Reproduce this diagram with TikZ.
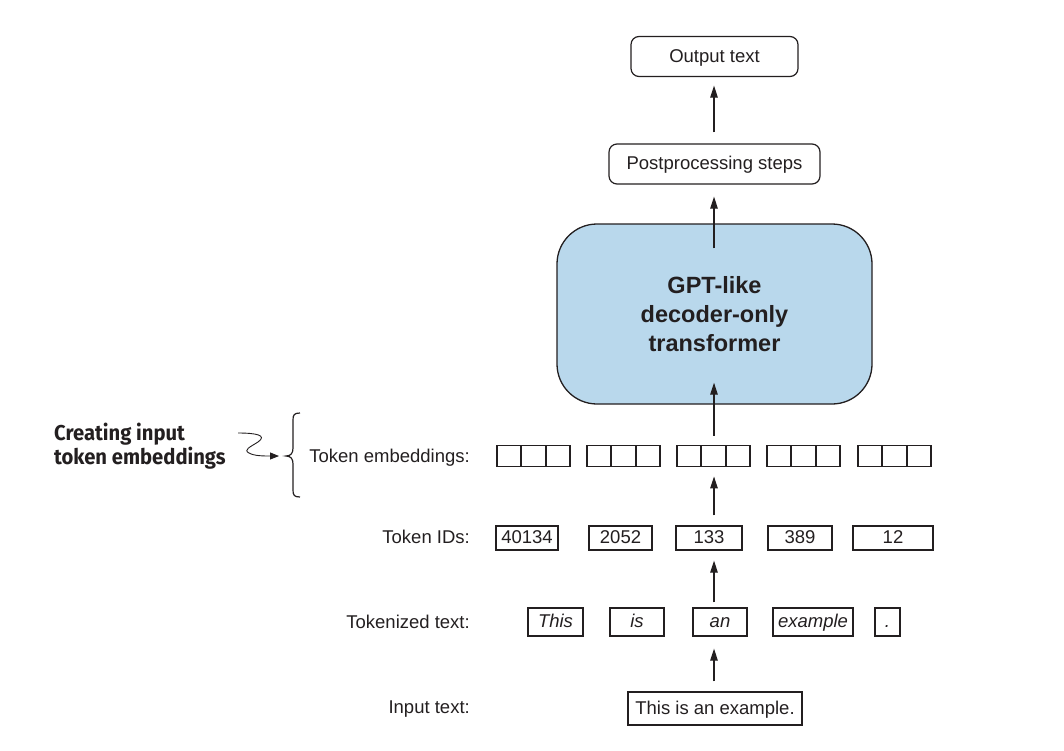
\documentclass[tikz,border=0pt]{standalone}
\usepackage{fontspec}
\setmainfont{Liberation Sans}
\newfontfamily\notefont[FakeStretch=0.94]{Fira Sans}
\usetikzlibrary{arrows.meta}

\definecolor{ink}{HTML}{231F20}
\definecolor{gptblue}{HTML}{B9D8EC}

\begin{document}
\begin{tikzpicture}[x=1pt,y=-1pt,
  txt/.style={font=\fontsize{18.5}{22}\selectfont, text=ink},
  lbl/.style={txt, anchor=base east, inner sep=0pt},
  box/.style={txt, draw=ink, line width=1.2pt, inner sep=0pt, text height=14pt, text depth=3pt},
  rbox/.style={box, rounded corners=8pt},
  cell/.style={draw=ink, line width=1.3pt, minimum width=24pt, minimum height=20.5pt, inner sep=0pt},
  arr/.style={draw=ink, line width=1.2pt, -{Triangle[length=12pt,width=7.5pt]}},
]
\useasboundingbox (0,0) rectangle (1064,750);

% main column of arrows
\coordinate (spine) at (714,0);

% top boxes
\node[rbox, minimum width=167pt, minimum height=40pt] (out) at (714.5,56.5) {Output text};
\node[rbox, minimum width=211pt, minimum height=40pt] (post) at (714.5,164) {Postprocessing steps};

% transformer block
\node[draw=ink, line width=1.3pt, fill=gptblue, rounded corners=40pt,
      minimum width=315pt, minimum height=180pt, align=center, text=ink,
      font=\bfseries\fontsize{23.5}{29}\selectfont] (gpt) at (714.5,314)
      {GPT-like\\decoder-only\\transformer};

% row labels
\node[lbl] (lemb) at (470,462) {Token embeddings:};
\node[lbl] (lids) at (470,543) {Token IDs:};
\node[lbl] (ltok) at (470,628) {Tokenized text:};
\node[lbl] (linp) at (470,713) {Input text:};

% token embedding vectors
\foreach \g/\x in {1/497,2/587,3/677,4/767,5/858}
  \foreach \k in {0,1,2}
    \node[cell] (e\g\k) at (\x+12+24.5*\k,456) {};

% token IDs
\node[box, minimum width=62pt, minimum height=24pt] (id1) at (527,538) {40134};
\node[box, minimum width=63pt, minimum height=24pt] (id2) at (620.5,538) {2052};
\node[box, minimum width=66pt, minimum height=24pt] (id3) at (709,538) {133};
\node[box, minimum width=64pt, minimum height=24pt] (id4) at (800,538) {389};
\node[box, minimum width=80pt, minimum height=24pt] (id5) at (893,538) {12};

% tokenized text
\node[box, minimum width=55pt, minimum height=28pt, font=\itshape\fontsize{18.5}{22}\selectfont] (t1) at (555.5,622) {This};
\node[box, minimum width=54pt, minimum height=28pt, font=\itshape\fontsize{18.5}{22}\selectfont] (t2) at (637,622) {is};
\node[box, minimum width=54pt, minimum height=28pt, font=\itshape\fontsize{18.5}{22}\selectfont] (t3) at (720,622) {an};
\node[box, minimum width=80pt, minimum height=28pt, font=\itshape\fontsize{18.5}{22}\selectfont] (t4) at (813,622) {example};
\node[box, minimum width=25pt, minimum height=28pt, font=\itshape\fontsize{18.5}{22}\selectfont] (t5) at (887.5,622) {.};

% input text
\node[box, minimum width=174pt, minimum height=33pt] (inp) at (715,708.5) {This is an example.};

% flow arrows
\draw[arr, shorten <=10pt, shorten >=12pt] (inp.north -| spine) -- (t3.south -| spine);
\draw[arr, shorten <=5pt, shorten >=10pt] (t3.north -| spine) -- (id3.south -| spine);
\draw[arr, shorten <=10pt, shorten >=9.5pt] (id3.north -| spine) -- (e31.south -| spine);
\draw[arr, shorten <=9.5pt, shorten >=-22pt] (e31.north -| spine) -- (gpt.south -| spine);
\draw[arr, shorten <=-25pt, shorten >=12pt] (gpt.north -| spine) -- (post.south -| spine);
\draw[arr, shorten <=11pt, shorten >=8.5pt] (post.north -| spine) -- (out.south -| spine);

% annotation
\node[anchor=west, align=left, inner sep=0pt, text=ink,
      font=\notefont\bfseries\fontsize{21.5}{24}\selectfont] (note) at (54,446)
      {Creating input\\token embeddings};
\coordinate (bt) at (286,456);
\coordinate (sq) at (238,433);
\draw[ink, line width=1.2pt] (300,413) .. controls (294,413) and (293,415) .. (293,420)
  -- (293,448) .. controls (293,453) and (291,456) .. (bt)
  .. controls (291,456) and (293,459) .. (293,464)
  -- (293,490) .. controls (293,495) and (294,497) .. (300,497);
\draw[ink, line width=0.9pt, -{Triangle[length=9pt,width=7pt]}]
  (sq) .. controls (255,433) and (268,435) .. (258,442)
  .. controls (250,447) and (243,450) .. (249,453)
  .. controls (254,456) and (264,456) .. ([xshift=-7pt]bt);
\end{tikzpicture}
\end{document}
